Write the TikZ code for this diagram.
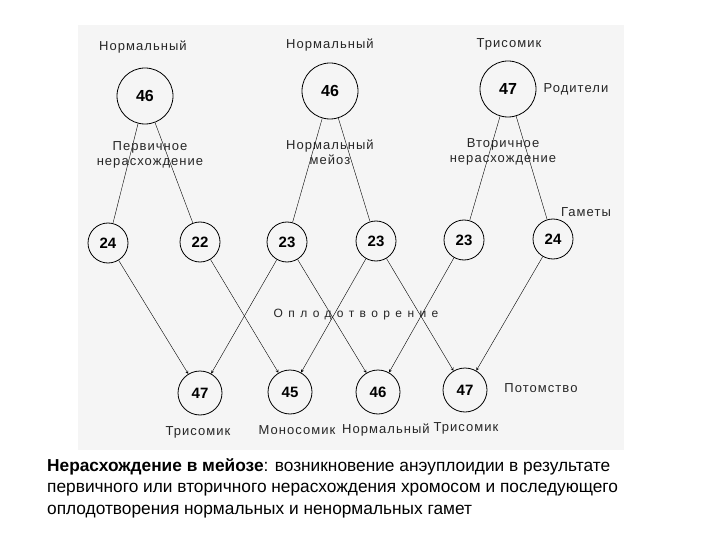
\documentclass[tikz,border=0pt]{standalone}
\usepackage{fontspec}
\setmainfont{Liberation Sans}
\newfontfamily\spaced[LetterSpace=8]{Liberation Sans}
\newfontfamily\wide[LetterSpace=45]{Liberation Sans}
\begin{document}
\begin{tikzpicture}[x=1pt,y=-1pt,
  big/.style={circle,draw,thick,minimum size=56pt,inner sep=0pt,font=\bfseries\fontsize{16}{16}\selectfont},
  gam/.style={circle,draw,thick,minimum size=40pt,inner sep=0pt,font=\bfseries\fontsize{15}{15}\selectfont},
  off/.style={circle,draw,thick,minimum size=44pt,inner sep=0pt,font=\bfseries\fontsize{15}{15}\selectfont},
  lbl/.style={font=\spaced\fontsize{13}{15}\selectfont,text=black!85,align=center,inner sep=1pt},
  par/.style={draw,thin},
  arr/.style={draw,thin,->,>=stealth}]
\useasboundingbox (0,0) rectangle (720,540);
\fill[white] (0,0) rectangle (720,540);
\fill[black!4] (78,25) rectangle (624,450);
\node[big] (p1) at (145,96) {46};
\node[big] (p2) at (330,91) {46};
\node[big] (p3) at (508,89) {47};
\node[gam] (g1) at (108,243) {24};
\node[gam] (g2) at (200,242) {22};
\node[gam] (g3) at (287,242) {23};
\node[gam] (g4) at (376,241) {23};
\node[gam] (g5) at (464,240) {23};
\node[gam] (g6) at (553,239) {24};
\node[off] (o1) at (200,393) {47};
\node[off] (o2) at (290,392) {45};
\node[off] (o3) at (378,392) {46};
\node[off] (o4) at (465,390) {47};
\foreach \p/\a/\b in {p1/g1/g2,p2/g3/g4,p3/g5/g6}{
  \draw[par] (\p) -- (\a); \draw[par] (\p) -- (\b);}
\foreach \a/\b in {g1/o1,g2/o2,g3/o1,g3/o3,g4/o2,g4/o4,g5/o3,g6/o4}{
  \draw[arr] (\a) -- (\b);}
\node[lbl] (t1) at (143,47) {Нормальный};
\node[lbl] (t2) at (330,45) {Нормальный};
\node[lbl] (t3) at (509,44) {Трисомик};
\node[lbl] (t4) at (576,89) {Родители};
\node[lbl] (t5) at (150,155) {Первичное\\нерасхождение};
\node[lbl] (t6) at (330,152) {Нормальный\\мейоз};
\node[lbl] (t7) at (503,152) {Вторичное\\нерасхождение};
\node[lbl] (t8) at (586,212) {Гаметы};
\node[lbl,font=\wide\fontsize{12}{14}\selectfont] (t9) at (356,315) {Оплодотворение};
\node[lbl] (t10) at (541,388) {Потомство};
\node[lbl] (t11) at (198,432) {Трисомик};
\node[lbl] (t12) at (297,430) {Моносомик};
\node[lbl] (t13) at (386,430) {Нормальный};
\node[lbl] (t14) at (466,428) {Трисомик};
\node[anchor=north west,align=left,font=\fontsize{17.3}{21.5}\selectfont,inner sep=0pt] (cap) at (47,458)
 {\textbf{Нерасхождение в мейозе}: возникновение анэуплоидии в результате\\
 первичного или вторичного нерасхождения хромосом и последующего\\
 оплодотворения нормальных и ненормальных гамет};
\end{tikzpicture}
\end{document}
